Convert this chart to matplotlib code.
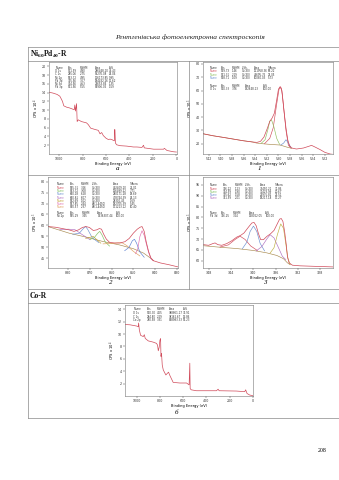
import matplotlib
matplotlib.use("Agg")
import matplotlib.pyplot as plt
from matplotlib.lines import Line2D

plt.rcParams["mathtext.fontset"] = "custom"
plt.rcParams["mathtext.rm"] = "Liberation Serif"
plt.rcParams["mathtext.bf"] = "Liberation Serif:bold"
plt.rcParams["mathtext.it"] = "Liberation Serif:italic"

W, H = 339, 480
fig = plt.figure(figsize=(W/100, H/100), dpi=100)
fig.patch.set_facecolor("white")

def rect(x0, y0, x1, y1):
    return [x0/W, 1 - y1/H, (x1-x0)/W, (y1-y0)/H]

def fx(x): return x/W
def fy(y): return 1 - y/H

SERIF = "Liberation Serif"
TICK_FS = 2.3
ENV_C = "#d04a5a"
BG_C = "#a88a50"

# ---------------- data ----------------
# Panel a: Ni60Pd40-R survey
a_be = [1086, 1051, 1017, 994, 980, 971, 960, 937, 909, 880, 871, 866, 860, 851, 846, 837, 809,
        766, 751, 731, 694, 666, 651, 637, 623, 600, 580, 566, 551, 537, 529, 526, 524, 520, 509,
        480, 423, 366, 337, 294, 280, 274, 194, 109, 103, 80, 23, 0]
a_cps = [14.1, 13.9, 13.6, 13.2, 12.5, 12.0, 11.0, 10.7, 10.5, 10.2, 10.1, 11.2, 9.8, 11.5, 7.4, 7.8, 7.4,
         7.1, 6.7, 5.9, 5.6, 5.4, 4.6, 4.9, 4.2, 3.6, 3.3, 3.4, 3.3, 3.1, 3.0, 5.6, 5.5, 2.5, 2.1,
         1.9, 1.8, 1.6, 1.6, 1.5, 2.0, 1.4, 1.1, 1.1, 1.3, 0.8, 0.5, 0.45]
a_head = ["Name", "Pos.", "FWHM", "Area", "At%"]
a_rows = [["O 1s", "531.59", "4.90", "286448.10", "49.43"],
          ["C 1s", "285.06", "2.75", "55276.08", "26.06"],
          ["Ni 2p", "853.72", "4.95", "116173.85", "9.95"],
          ["Pd 3d", "335.56", "3.67", "184432.26", "11.62"],
          ["Ni 3d", "354.56", "4.53", "24653.84", "1.35"],
          ["Pd 3p", "531.56", "5.55", "87906.05", "1.59"]]

# Panel б: Co-R survey
b_be = [1100, 1057, 1000, 986, 983, 977, 966, 943, 934, 926, 900, 857, 829, 820, 814, 806, 800,
        794, 791, 786, 780, 771, 749, 734, 726, 714, 686, 629, 571, 549, 543, 540, 531, 486,
        314, 300, 291, 143, 71, 63, 51, 29, 3]
b_cps = [11.55, 11.5, 11.3, 11.2, 11.8, 10.7, 9.8, 9.6, 9.9, 9.3, 8.9, 8.7, 8.5, 8.2, 7.3, 7.9, 9.0,
         9.3, 6.4, 6.9, 5.0, 4.2, 3.4, 3.7, 3.85, 3.3, 2.2, 2.1, 2.1, 1.8, 5.3, 1.2, 1.0, 0.85,
         0.85, 1.1, 0.85, 0.8, 0.7, 1.0, 0.4, 0.16, 0.05]
b_head = ["Name", "Pos.", "FWHM", "Area", "At%"]
b_rows = [["O 1s", "530.30", "4.65", "388861.17", "33.91"],
          ["C 1s", "284.80", "2.29", "38162.67", "13.86"],
          ["Co 2p", "780.58", "3.31", "838983.33", "52.23"]]

# Panel 1: O 1s region
p1_be = [543.0, 541.3, 539.5, 537.8, 536.1, 534.4, 533.7, 533.1, 532.5, 531.9, 531.5, 531.1, 530.7,
         530.3, 530.0, 529.7, 529.5, 529.3, 529.0, 528.7, 528.4, 528.1, 527.7, 526.9, 525.7, 524.8,
         524.3, 523.7, 522.8, 522.0, 521.1, 520.6]
p1_env = [27.5, 26.0, 24.75, 23.5, 22.25, 21.25, 21.0, 21.75, 25.0, 31.75, 36.75, 39.25, 43.0,
          53.0, 61.0, 63.0, 61.75, 55.5, 43.0, 31.75, 23.0, 18.5, 16.75, 16.0, 16.75, 18.0,
          18.75, 17.5, 15.5, 13.5, 12.25, 12.0]
p1_bg_be = [543.0, 541.3, 539.5, 537.8, 536.1, 534.4, 533.8, 532.8, 531.5, 529.7, 528.6, 527.7]
p1_bg = [27.5, 26.0, 24.75, 23.5, 22.25, 21.25, 20.5, 20.0, 19.5, 19.0, 17.5, 16.5]
p1_comp_be = [
    [532.4, 531.5, 530.9, 530.3, 529.9, 529.7, 529.4, 529.1, 528.7, 528.3, 527.9],
    [533.0, 532.3, 531.8, 531.5, 531.2, 530.8, 530.3, 529.8],
    [529.6, 529.1, 528.7, 528.3, 527.9],
]
p1_comp_v = [
    [20.0, 24.0, 32.0, 50.0, 61.0, 62.5, 60.0, 47.0, 30.0, 19.0, 16.8],
    [20.2, 23.0, 31.0, 37.0, 38.0, 33.0, 24.0, 19.5],
    [19.0, 20.5, 23.0, 20.5, 17.5],
]
p1_comp_c = ["#d04a5a", "#8fbf5f", "#6a8fcf"]
p1_head = ["Name", "Pos.", "FWHM", "L.Sh.", "Area", "%Area"]
p1_rows = [["Name", "529.73", "1.46", "GL(30)", "121958.36", "69.22"],
           ["Name", "531.31", "2.19", "GL(30)", "44695.76", "25.05"],
           ["Name", "528.71", "1.09", "GL(30)", "10080.03", "5.73"]]
p1_head2 = ["Name", "Pos.", "FWHM", "Area", "At%"]
p1_rows2 = [["O 1s", "530.33", "3.76", "192648.13", "100.00"]]

# Panel 2: Ni 2p region
p2_be = [889.4, 886.0, 882.8, 879.7, 877.4, 875.3, 873.5, 871.9, 870.3, 868.5, 866.9, 865.7, 864.7,
         863.8, 862.5, 861.0, 858.6, 856.3, 853.9, 851.9, 850.0, 848.2, 846.9, 846.0, 845.0, 844.1,
         843.0, 841.9, 840.7, 837.5, 833.6, 829.4]
p2_env = [59.5, 59.2, 58.6, 58.0, 57.3, 58.0, 59.1, 59.5, 59.1, 57.7, 58.0, 58.6, 58.3,
          56.2, 53.8, 52.3, 52.0, 52.0, 52.6, 54.1, 56.5, 58.3, 59.2, 59.5, 57.3, 52.7,
          48.2, 45.2, 43.9, 42.9, 42.1, 41.1]
p2_bg_be = [889.4, 879.7, 871.9, 864.1, 856.3, 850.0, 845.3, 842.2, 840.7]
p2_bg = [59.5, 56.5, 54.7, 52.7, 51.1, 49.4, 47.4, 45.2, 43.9]
p2_comp_be = [
    [884, 880, 877, 874, 870],
    [878, 875, 873, 872, 871, 869, 866],
    [872, 870, 868.5, 867, 865],
    [870, 868, 866.5, 865.5, 864.5, 863, 861],
    [864, 860, 857, 855, 853, 850, 847],
    [854, 852, 850.5, 849.5, 848.5, 847, 845],
    [849, 848, 847, 846, 845, 844, 843, 842, 841],
]
p2_comp_v = [
    [58.1, 58.3, 58.1, 56.1, 53.5],
    [56.0, 56.4, 58.7, 59.5, 58.1, 54.4, 52.2],
    [54.1, 54.6, 55.0, 53.6, 51.9],
    [53.6, 54.5, 56.4, 57.3, 55.7, 52.5, 50.6],
    [51.6, 51.8, 52.1, 52.0, 50.8, 48.2, 46.1],
    [48.5, 50.0, 53.0, 53.7, 51.9, 47.9, 45.5],
    [47.1, 49.2, 54.9, 57.6, 55.5, 51.5, 47.8, 45.0, 44.0],
]
p2_comp_c = ["#b070c0", "#6a8fcf", "#c0a030", "#7fbf5f", "#e0a060", "#5a7fd0", "#e070b0"]
p2_head = ["Name", "Pos.", "FWHM", "L.Sh.", "Area", "%Area"]
p2_rows = [["Name", "855.31", "3.26", "GL(30)", "402409.10", "21.01"],
           ["Name", "873.72", "3.08", "GL(30)", "126499.22", "7.71"],
           ["Name", "860.18", "6.28", "GL(30)", "280171.28", "18.69"],
           ["Name", "860.81", "6.07", "GL(30)", "478744.39", "26.13"],
           ["Name", "852.69", "1.02", "GL(30)", "28300.43", "1.69"],
           ["Name", "857.85", "2.44", "LA(1,4450)", "182705.39", "5.45"],
           ["Name", "870.57", "2.37", "LA(1,4450)", "171213.12", "10.40"]]
p2_row_c = ["#d04a5a", "#7fbf5f", "#6a8fcf", "#b070c0", "#c0a030", "#e070b0", "#e0a060"]
p2_head2 = ["Name", "Pos.", "FWHM", "Area", "At%"]
p2_rows2 = [["Ni 2p", "855.29", "3.45", "1436307.44", "100.00"]]

# Panel 3: Pd 3d region
p3_be = [348.96, 348.06, 347.3, 346.9, 346.4, 345.7, 344.8, 343.9, 343.0, 342.3, 341.7, 340.9, 340.3,
         339.9, 339.5, 339.1, 338.7, 338.2, 337.6, 336.9, 336.3, 335.8, 335.3, 335.0, 334.7, 334.4,
         334.1, 333.9, 333.6, 333.0, 331.6, 329.3, 325.7]
p3_env = [67.4, 67.1, 67.9, 68.2, 67.4, 67.1, 67.9, 69.2, 70.9, 71.7, 72.8, 75.5, 77.4,
          77.7, 76.1, 72.5, 69.7, 69.7, 71.2, 72.5, 74.0, 76.6, 79.2, 79.5, 78.1, 73.5,
          67.4, 62.0, 59.0, 57.9, 57.6, 57.4, 57.1]
p3_bg_be = [348.96, 346.0, 343.0, 340.0, 337.6, 335.8, 334.6, 333.9, 333.4]
p3_bg = [66.9, 66.2, 65.6, 64.7, 63.6, 62.4, 60.9, 59.0, 58.1]
p3_comp_be = [
    [346.0, 344.5, 343.3, 342.4, 341.5, 340.5, 339.3],
    [342.0, 341.2, 340.6, 340.0, 339.4, 338.8, 338.0],
    [339.5, 338.5, 337.6, 337.0, 336.3, 335.5, 334.8, 334.2],
    [337.0, 336.3, 335.7, 335.1, 334.6, 334.2, 333.8, 333.4],
]
p3_comp_v = [
    [66.3, 67.3, 69.8, 71.3, 69.8, 66.8, 64.7],
    [65.5, 68.5, 73.5, 76.0, 73.5, 68.0, 64.5],
    [64.5, 66.5, 70.0, 72.0, 70.5, 66.0, 62.0, 60.5],
    [63.5, 66.0, 72.0, 77.0, 75.0, 68.0, 61.0, 58.3],
]
p3_comp_c = ["#d04a5a", "#6a8fcf", "#b070c0", "#c0b040"]
p3_head = ["Name", "Pos.", "FWHM", "L.Sh.", "Area", "%Area"]
p3_rows = [["Name", "336.22", "1.23", "GL(30)", "73450.21", "31.86"],
           ["Name", "334.59", "1.90", "GL(30)", "31423.99", "20.67"],
           ["Name", "335.62", "1.58", "GL(30)", "21975.82", "22.51"],
           ["Name", "341.59", "2.01", "GL(30)", "18217.18", "17.27"]]
p3_row_c = ["#d04a5a", "#7fbf5f", "#6a8fcf", "#b070c0"]
p3_head2 = ["Name", "Pos.", "FWHM", "Area", "At%"]
p3_rows2 = [["Pd 3d", "336.25", "3.24", "138022.05", "100.00"]]

# ---------------- helpers ----------------
def style_ax(ax, xlim, ylim, xticks, yticks, xlabel="Binding Energy (eV)", ylabel=None):
    ax.set_xlim(*xlim)
    ax.set_ylim(*ylim)
    ax.set_xticks(xticks)
    ax.set_yticks(yticks)
    ax.tick_params(labelsize=TICK_FS, length=1.2, width=0.3, pad=0.8, colors="#333333")
    ax.tick_params(which="both", direction="out")
    for s in ax.spines.values():
        s.set_linewidth(0.4)
        s.set_color("#777777")
    ax.set_xlabel(xlabel, fontsize=2.6, labelpad=1)
    if ylabel:
        ax.set_ylabel(ylabel, fontsize=2.6, labelpad=1)

def table(ax, y0, cols, head, rows, colors=None, dy=0.036):
    for j, h in enumerate(head):
        ax.text(cols[j], y0, h, fontsize=1.9, transform=ax.transAxes, va="top", color="#333333")
    for i, r in enumerate(rows):
        for j, v in enumerate(r):
            c = colors[i] if (colors and j == 0) else "#333333"
            ax.text(cols[j], y0 - (i+1)*dy, v, fontsize=1.9, transform=ax.transAxes, va="top", color=c)

# ---------------- header & frame lines ----------------
fig.text(fx(190), fy(37), "Рентгенівська фотоелектронна спектроскопія", family=SERIF,
         style="italic", fontsize=5.3, ha="center", va="center", color="#222222")
fig.text(fx(30), fy(54), r"$\mathbf{Ni_{60}Pd_{40}}$-R", family=SERIF, fontsize=5.5,
         ha="left", va="center", fontweight="bold", color="#111111")
fig.text(fx(30), fy(296), "Co-R", family=SERIF, fontsize=5.5, ha="left", va="center",
         fontweight="bold", color="#111111")
LC = "#888888"
def hline(y, x0=28, x1=339):
    fig.add_artist(Line2D([fx(x0), fx(x1)], [fy(y), fy(y)], color=LC, lw=0.5))
def vline(x, y0, y1):
    fig.add_artist(Line2D([fx(x), fx(x)], [fy(y0), fy(y1)], color=LC, lw=0.5))
for yy in (47, 61, 175, 289, 303, 418):
    hline(yy)
vline(28, 47, 418)
vline(189, 61, 289)

# panel labels
for (x, y, t) in [(118, 168, "а"), (259, 169, "1"), (111, 283, "2"), (265, 283, "3"), (176, 413, "б")]:
    fig.text(fx(x), fy(y), t, family=SERIF, style="italic", fontsize=5, ha="center", va="center")
fig.text(fx(322), fy(450), "208", family=SERIF, fontsize=4.2, ha="center", va="center")

# ---------------- panel a ----------------
ax = fig.add_axes(rect(49, 62, 177, 154))
ax.plot(a_be, a_cps, color=ENV_C, lw=0.5)
style_ax(ax, (1086, -5), (0, 21), [1000, 800, 600, 400, 200, 0], list(range(2, 21, 2)),
         ylabel=r"CPS x 10$^{4}$")
table(ax, 0.955, [0.05, 0.15, 0.24, 0.36, 0.47], a_head, a_rows, dy=0.034)

# ---------------- panel 1 ----------------
ax = fig.add_axes(rect(203, 62, 333, 154))
ax.plot(p1_bg_be, p1_bg, color=BG_C, lw=0.45)
for bx, by, c in zip(p1_comp_be, p1_comp_v, p1_comp_c):
    ax.plot(bx, by, color=c, lw=0.45)
ax.plot(p1_be, p1_env, color=ENV_C, lw=0.5)
style_ax(ax, (543, 520.6), (12.25, 81.5), list(range(542, 521, -2)),
         [20, 30, 40, 50, 60, 70, 80], ylabel=r"CPS x 10$^{3}$")
table(ax, 0.955, [0.055, 0.14, 0.22, 0.30, 0.39, 0.50], p1_head, p1_rows, colors=p1_comp_c, dy=0.036)
table(ax, 0.765, [0.055, 0.14, 0.22, 0.32, 0.46], p1_head2, p1_rows2, dy=0.036)

# ---------------- panel 2 ----------------
ax = fig.add_axes(rect(48, 177, 178, 268))
ax.plot(p2_bg_be, p2_bg, color=BG_C, lw=0.45)
for bx, by, c in zip(p2_comp_be, p2_comp_v, p2_comp_c):
    ax.plot(bx, by, color=c, lw=0.45)
ax.plot(p2_be, p2_env, color=ENV_C, lw=0.5)
style_ax(ax, (889.4, 829.4), (40.6, 82.1), [880, 870, 860, 850, 840, 830],
         [45, 50, 55, 60, 65, 70, 75, 80], ylabel=r"CPS x 10$^{3}$")
table(ax, 0.94, [0.067, 0.17, 0.25, 0.34, 0.50, 0.63], p2_head, p2_rows, colors=p2_row_c, dy=0.036)
table(ax, 0.63, [0.067, 0.17, 0.26, 0.38, 0.52], p2_head2, p2_rows2, dy=0.036)

# ---------------- panel 3 ----------------
ax = fig.add_axes(rect(203, 177, 333, 268))
ax.plot(p3_bg_be, p3_bg, color=BG_C, lw=0.45)
for bx, by, c in zip(p3_comp_be, p3_comp_v, p3_comp_c):
    ax.plot(bx, by, color=c, lw=0.45)
ax.plot(p3_be, p3_env, color=ENV_C, lw=0.5)
style_ax(ax, (349.07, 325.7), (56.6, 98.7), [348, 344, 340, 336, 332, 328],
         [60, 65, 70, 75, 80, 85, 90, 95], ylabel=r"CPS x 10$^{3}$")
table(ax, 0.93, [0.054, 0.155, 0.245, 0.32, 0.44, 0.55], p3_head, p3_rows, colors=p3_row_c, dy=0.036)
table(ax, 0.63, [0.054, 0.14, 0.23, 0.35, 0.48], p3_head2, p3_rows2, dy=0.036)

# ---------------- panel б ----------------
ax = fig.add_axes(rect(125, 305, 253, 396))
ax.plot(b_be, b_cps, color=ENV_C, lw=0.5)
style_ax(ax, (1100, 0), (0, 14.7), [1000, 800, 600, 400, 200, 0], [2, 4, 6, 8, 10, 12, 14],
         ylabel=r"CPS x 10$^{4}$")
table(ax, 0.975, [0.065, 0.17, 0.25, 0.34, 0.45], b_head, b_rows, dy=0.04)

fig.savefig("out.png", dpi=100)
